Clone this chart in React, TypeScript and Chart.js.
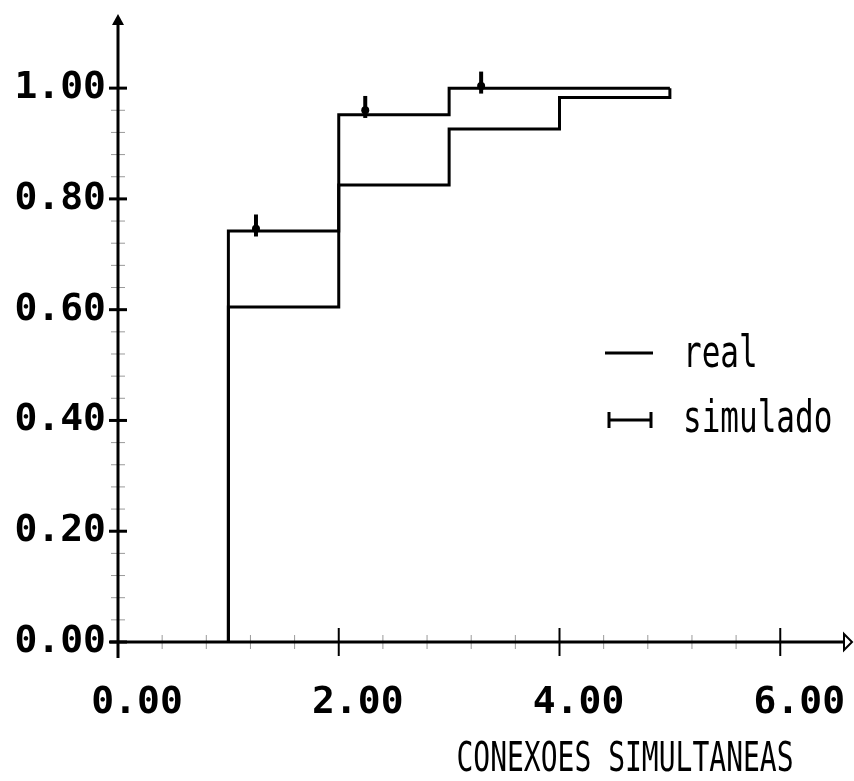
import React, { useEffect, useRef } from 'react';
import { Chart, registerables } from 'chart.js';
Chart.register(...registerables);

// ---- data ----
const xMajorTicks = [0, 2, 4, 6];
const yMajorTicks = [0, 0.2, 0.4, 0.6, 0.8, 1.0];
const realX = [1, 1, 2, 3, 4, 5];
const realY = [0, 0.605, 0.825, 0.926, 0.983, 1.0];
const simX = [1, 1, 2, 3, 5];
const simY = [0, 0.742, 0.952, 1.0, 1.0];
const simMarkX = [1.25, 2.24, 3.29];
const simMarkY = [0.752, 0.966, 1.01];
const legendLabels = ['real', 'simulado'];
const xTitle = 'CONEXOES SIMULTANEAS';

const FONT = "'DejaVu Sans Mono', monospace";
const X_MAX = 6.65;
const Y_MAX = 1.123;

const near = (a: number, list: number[]) => list.some((m) => Math.abs(a - m) < 1e-6);

function stretchedText(ctx: CanvasRenderingContext2D, text: string, x: number, y: number, size: number, sy: number, align: CanvasTextAlign) {
  ctx.save();
  ctx.translate(x, y);
  ctx.scale(1, sy);
  ctx.font = `${size}px ${FONT}`;
  ctx.textAlign = align;
  ctx.textBaseline = 'alphabetic';
  ctx.fillStyle = '#000';
  ctx.fillText(text, 0, 0);
  ctx.restore();
}

const decorPlugin = {
  id: 'decor',
  afterDraw(chart: any) {
    const ctx: CanvasRenderingContext2D = chart.ctx;
    const xs = chart.scales.x;
    const ys = chart.scales.y;
    const x0 = xs.getPixelForValue(0);
    const y0 = ys.getPixelForValue(0);
    ctx.save();
    ctx.strokeStyle = '#000';
    ctx.fillStyle = '#000';
    ctx.lineCap = 'butt';

    ys.ticks.forEach((t: any) => {
      if (t.value > 1.0001) return;
      const py = ys.getPixelForValue(t.value);
      ctx.beginPath();
      if (near(t.value, yMajorTicks)) {
        ctx.lineWidth = 3;
        ctx.strokeStyle = '#000';
        ctx.moveTo(x0 - 9, py);
        ctx.lineTo(x0 + 9, py);
      } else {
        ctx.lineWidth = 1;
        ctx.strokeStyle = '#9a9a9a';
        ctx.moveTo(x0 - 7, py);
        ctx.lineTo(x0 + 7, py);
      }
      ctx.stroke();
    });
    xs.ticks.forEach((t: any) => {
      if (t.value > 6.0001) return;
      const px = xs.getPixelForValue(t.value);
      ctx.beginPath();
      if (near(t.value, xMajorTicks)) {
        ctx.lineWidth = 2;
        ctx.strokeStyle = '#000';
        ctx.moveTo(px, y0 - 14);
        ctx.lineTo(px, y0 + 14);
      } else {
        ctx.lineWidth = 1;
        ctx.strokeStyle = '#9a9a9a';
        ctx.moveTo(px, y0 - 7);
        ctx.lineTo(px, y0 + 7);
      }
      ctx.stroke();
    });

    // axes
    ctx.strokeStyle = '#000';
    ctx.lineWidth = 3;
    ctx.beginPath();
    ctx.moveTo(x0, y0 + 16);
    ctx.lineTo(x0, ys.top + 4);
    ctx.stroke();
    ctx.beginPath();
    ctx.moveTo(x0 - 6, ys.top + 5);
    ctx.lineTo(x0 + 6, ys.top + 5);
    ctx.lineTo(x0, ys.top - 6);
    ctx.closePath();
    ctx.fill();

    ctx.beginPath();
    ctx.moveTo(x0 - 8, y0);
    ctx.lineTo(xs.right - 8, y0);
    ctx.stroke();
    ctx.lineWidth = 2;
    ctx.beginPath();
    ctx.moveTo(xs.right - 8, y0 - 8);
    ctx.lineTo(xs.right, y0);
    ctx.lineTo(xs.right - 8, y0 + 8);
    ctx.closePath();
    ctx.stroke();

    // legend
    ctx.lineWidth = 3;
    ctx.beginPath();
    ctx.moveTo(605, 353);
    ctx.lineTo(653, 353);
    ctx.stroke();
    ctx.beginPath();
    ctx.moveTo(608, 420);
    ctx.lineTo(652, 420);
    ctx.moveTo(609, 412);
    ctx.lineTo(609, 428);
    ctx.moveTo(651, 412);
    ctx.lineTo(651, 428);
    ctx.stroke();
    stretchedText(ctx, legendLabels[0], 683, 367, 31, 1.45, 'left');
    stretchedText(ctx, legendLabels[1], 683, 432, 31, 1.45, 'left');

    // x axis title
    stretchedText(ctx, xTitle, 625, 771, 28, 1.45, 'center');
    ctx.restore();
  },
};

export default function App() {
  const ref = useRef<HTMLCanvasElement | null>(null);
  useEffect(() => {
    if (!ref.current) return;
    const chart = new Chart(ref.current, {
      type: 'line',
      data: {
        datasets: [
          {
            label: legendLabels[0],
            data: realX.map((x, i) => ({ x, y: realY[i] })),
            borderColor: '#000',
            borderWidth: 3,
            stepped: 'before',
            pointRadius: 0,
            fill: false,
          },
          {
            label: legendLabels[1],
            data: simX.map((x, i) => ({ x, y: simY[i] })),
            borderColor: '#000',
            borderWidth: 3,
            stepped: 'before',
            pointRadius: 0,
            fill: false,
          },
          {
            label: legendLabels[1] + ' marks',
            data: simMarkX.map((x, i) => ({ x, y: simMarkY[i] })),
            showLine: false,
            pointStyle: 'line',
            rotation: 90,
            pointRadius: 11,
            pointHoverRadius: 11,
            borderWidth: 4,
            borderColor: '#000',
            backgroundColor: '#000',
          },
          {
            label: legendLabels[1] + ' dots',
            data: simMarkX.map((x, i) => ({ x, y: simMarkY[i] - 0.006 })),
            showLine: false,
            pointStyle: 'circle',
            pointRadius: 4,
            pointHoverRadius: 4,
            borderWidth: 0,
            borderColor: '#000',
            backgroundColor: '#000',
          },
        ],
      },
      options: {
        animation: false,
        responsive: false,
        devicePixelRatio: 1,
        layout: { autoPadding: false, padding: { left: 0, top: 20, right: 2, bottom: 0 } },
        plugins: { legend: { display: false }, tooltip: { enabled: false } },
        scales: {
          x: {
            type: 'linear',
            min: 0,
            max: X_MAX,
            grid: { display: false, drawTicks: false },
            border: { display: false },
            afterFit: (s: any) => {
              s.height = 139;
              s.paddingLeft = 0;
              s.paddingRight = 0;
            },
            ticks: {
              stepSize: 0.4,
              includeBounds: false,
              autoSkip: false,
              maxRotation: 0,
              minRotation: 0,
              padding: 42,
              labelOffset: 19,
              color: '#000',
              font: { family: FONT, size: 38, weight: 'bold', lineHeight: 1 },
              callback: (v: any) => (near(Number(v), xMajorTicks) ? Number(v).toFixed(2) : ''),
            },
          },
          y: {
            type: 'linear',
            min: 0,
            max: Y_MAX,
            grid: { display: false, drawTicks: false },
            border: { display: false },
            afterFit: (s: any) => {
              s.width = 118;
              s.paddingTop = 0;
              s.paddingBottom = 0;
            },
            ticks: {
              stepSize: 0.04,
              includeBounds: false,
              autoSkip: false,
              padding: 12,
              color: '#000',
              font: { family: FONT, size: 38, weight: 'bold', lineHeight: 1 },
              callback: (v: any) => (near(Number(v), yMajorTicks) ? Number(v).toFixed(2) : ''),
            },
          },
        },
      },
      plugins: [decorPlugin],
    } as any);
    return () => chart.destroy();
  }, []);
  return (
    <div style={{ position: 'fixed', left: 0, top: 0, width: 854, height: 781, background: '#fff' }}>
      <canvas ref={ref} width={854} height={781} style={{ display: 'block' }} />
    </div>
  );
}
